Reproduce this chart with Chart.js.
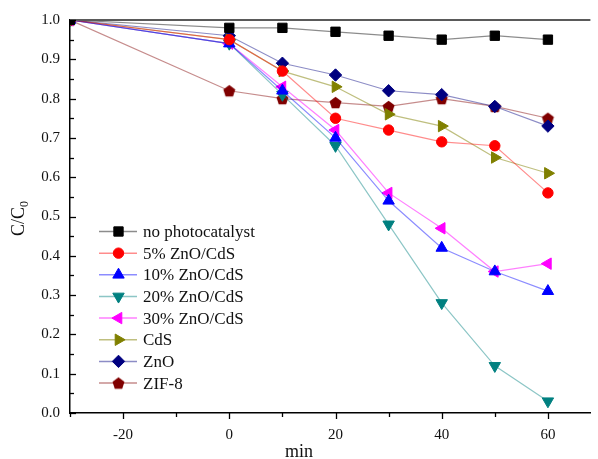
<!DOCTYPE html>
<html><head><meta charset="utf-8">
<script src="https://cdn.jsdelivr.net/npm/chart.js@4/dist/chart.umd.min.js"></script>
<style>html,body{margin:0;padding:0;background:#fff;}#wrap{width:598px;height:459px;position:relative;}</style>
</head><body><div id="wrap"><canvas id="c" width="598" height="459"></canvas></div>
<script>
// ---- data ----
const times = [-30, 0, 10, 20, 30, 40, 50, 60];
const seriesNames = ['no photocatalyst', '5% ZnO/CdS', '10% ZnO/CdS', '20% ZnO/CdS', '30% ZnO/CdS', 'CdS', 'ZnO', 'ZIF-8'];
const noPhotocatalyst = [1.00, 0.98, 0.98, 0.97, 0.96, 0.95, 0.96, 0.95];
const zncds5  = [1.00, 0.95, 0.87, 0.75, 0.72, 0.69, 0.68, 0.56];
const zncds10 = [1.00, 0.94, 0.82, 0.70, 0.54, 0.42, 0.36, 0.31];
const zncds20 = [1.00, 0.94, 0.81, 0.68, 0.48, 0.28, 0.12, 0.03];
const zncds30 = [1.00, 0.94, 0.83, 0.72, 0.56, 0.47, 0.36, 0.38];
const cds     = [1.00, 0.95, 0.87, 0.83, 0.76, 0.73, 0.65, 0.61];
const zno     = [1.00, 0.96, 0.89, 0.86, 0.82, 0.81, 0.78, 0.73];
const zif8    = [1.00, 0.82, 0.80, 0.79, 0.78, 0.80, 0.78, 0.75];
const xTickValues = [-20, 0, 20, 40, 60];
const xMinorTicks = [-30, -10, 10, 30, 50];
const yTickValues = [0.0, 0.1, 0.2, 0.3, 0.4, 0.5, 0.6, 0.7, 0.8, 0.9, 1.0];
const yMinorTicks = [0.05, 0.15, 0.25, 0.35, 0.45, 0.55, 0.65, 0.75, 0.85, 0.95];
const xTitle = 'min';

// ---- styles ----
const allValues = [noPhotocatalyst, zncds5, zncds10, zncds20, zncds30, cds, zno, zif8];
const colors = ['#000000', '#ff0000', '#0000ff', '#008080', '#ff00ff', '#808000', '#000080', '#800000'];
const lineColors = ['rgba(0,0,0,0.45)', 'rgba(255,0,0,0.45)', 'rgba(0,0,255,0.45)', 'rgba(0,128,128,0.45)',
                    'rgba(255,0,255,0.5)', 'rgba(128,128,0,0.5)', 'rgba(0,0,128,0.45)', 'rgba(128,0,0,0.45)'];

function makePentagon(color, r) {
  const s = Math.ceil(r * 2 + 2);
  const cv = document.createElement('canvas');
  cv.width = s; cv.height = s;
  const g = cv.getContext('2d');
  g.beginPath();
  for (let i = 0; i < 5; i++) {
    const a = -Math.PI / 2 + i * 2 * Math.PI / 5;
    const px = s / 2 + r * Math.cos(a), py = s / 2 + r * Math.sin(a) + r * 0.1;
    if (i === 0) g.moveTo(px, py); else g.lineTo(px, py);
  }
  g.closePath();
  g.fillStyle = color; g.fill();
  return cv;
}
const pentagon = makePentagon('#800000', 6.3);

const pointStyles = ['rect', 'circle', 'triangle', 'triangle', 'triangle', 'triangle', 'rectRot', pentagon];
const rotations = [0, 0, 0, 180, 270, 90, 0, 0];
const radii = [6.6, 5.2, 6.6, 6.6, 6.6, 6.6, 6.2, 6.5];

const datasets = seriesNames.map((name, i) => ({
  label: name,
  data: times.map((t, j) => ({ x: t, y: allValues[i][j] })),
  borderColor: lineColors[i],
  borderWidth: 1.2,
  backgroundColor: colors[i],
  pointBackgroundColor: colors[i],
  pointBorderColor: colors[i],
  pointBorderWidth: 1,
  pointStyle: pointStyles[i],
  rotation: rotations[i],
  pointRadius: radii[i],
  pointHoverRadius: radii[i],
  tension: 0,
  fill: false
}));

const SERIF = '"Liberation Serif", "Times New Roman", serif';

const decor = {
  id: 'decor',
  afterDraw(chart) {
    const ctx = chart.ctx, a = chart.chartArea;
    const xs = chart.scales.x, ys = chart.scales.y;
    ctx.save();
    // top frame line
    ctx.strokeStyle = '#5a5a5a'; ctx.lineWidth = 2;
    ctx.beginPath(); ctx.moveTo(a.left, a.top); ctx.lineTo(a.right, a.top); ctx.stroke();
    // y ticks (inward)
    ctx.strokeStyle = '#000'; ctx.lineWidth = 1.3;
    yTickValues.forEach(v => {
      const py = Math.round(ys.getPixelForValue(v)) + 0.5;
      ctx.beginPath(); ctx.moveTo(a.left, py); ctx.lineTo(a.left + 6, py); ctx.stroke();
    });
    yMinorTicks.forEach(v => {
      const py = Math.round(ys.getPixelForValue(v)) + 0.5;
      ctx.beginPath(); ctx.moveTo(a.left, py); ctx.lineTo(a.left + 4, py); ctx.stroke();
    });
    // x ticks (outward)
    xTickValues.forEach(v => {
      const px = Math.round(xs.getPixelForValue(v)) + 0.5;
      ctx.beginPath(); ctx.moveTo(px, a.bottom); ctx.lineTo(px, a.bottom + 6); ctx.stroke();
    });
    xMinorTicks.forEach(v => {
      const px = Math.round(xs.getPixelForValue(v)) + 0.5;
      ctx.beginPath(); ctx.moveTo(px, a.bottom); ctx.lineTo(px, a.bottom + 4); ctx.stroke();
    });
    // y title C/C0
    ctx.fillStyle = '#111';
    ctx.translate(24, (a.top + a.bottom) / 2 + 2);
    ctx.rotate(-Math.PI / 2);
    ctx.font = '18px ' + SERIF;
    ctx.textBaseline = 'alphabetic'; ctx.textAlign = 'left';
    const main = 'C/C';
    const mw = ctx.measureText(main).width;
    ctx.font = '12px ' + SERIF;
    const sw = ctx.measureText('0').width;
    const start = -(mw + sw) / 2;
    ctx.font = '18px ' + SERIF;
    ctx.fillText(main, start, 0);
    ctx.font = '12px ' + SERIF;
    ctx.fillText('0', start + mw, 4);
    ctx.setTransform(1, 0, 0, 1, 0, 0);
    // x title
    ctx.font = '18px ' + SERIF;
    ctx.textAlign = 'center'; ctx.textBaseline = 'middle';
    ctx.fillText(xTitle, 299, 452);
    // legend
    const lx0 = 99, lx1 = 137, mx = 118.5, tx = 143, ly0 = 231.5, dy = 21.65;
    ctx.font = '17px ' + SERIF;
    ctx.textAlign = 'left'; ctx.textBaseline = 'middle';
    datasets.forEach((ds, i) => {
      const y = ly0 + i * dy;
      ctx.strokeStyle = lineColors[i]; ctx.lineWidth = 1.5;
      ctx.beginPath(); ctx.moveTo(lx0, y); ctx.lineTo(lx1, y); ctx.stroke();
      ctx.fillStyle = colors[i]; ctx.strokeStyle = colors[i]; ctx.lineWidth = 1;
      Chart.helpers.drawPoint(ctx, { pointStyle: pointStyles[i], rotation: rotations[i], radius: radii[i], borderWidth: 1 }, mx, y);
      ctx.fillStyle = '#111';
      ctx.fillText(ds.label, tx, y + 1);
    });
    ctx.restore();
  }
};

new Chart(document.getElementById('c'), {
  type: 'line',
  data: { datasets },
  plugins: [decor],
  options: {
    responsive: false,
    animation: false,
    devicePixelRatio: 1,
    layout: { padding: { top: 20, right: 0, left: 0, bottom: 0 } },
    plugins: { legend: { display: false }, tooltip: { enabled: false } },
    scales: {
      x: {
        type: 'linear', min: -30, max: 68,
        afterBuildTicks: s => { s.ticks = xTickValues.map(v => ({ value: v })); },
        afterFit: s => { s.height = 46; },
        grid: { display: false, drawTicks: false },
        border: { display: true, color: '#000', width: 1.5 },
        ticks: { padding: 13, color: '#111', font: { family: SERIF, size: 15 }, maxRotation: 0, callback: v => String(v) }
      },
      y: {
        type: 'linear', min: 0, max: 1.0,
        afterBuildTicks: s => { s.ticks = yTickValues.map(v => ({ value: v })); },
        afterFit: s => { s.width = 70; },
        grid: { display: false, drawTicks: false },
        border: { display: true, color: '#000', width: 1.5 },
        ticks: { padding: 10, color: '#111', font: { family: SERIF, size: 15 }, callback: v => Number(v).toFixed(1) }
      }
    }
  }
});
</script></body></html>
